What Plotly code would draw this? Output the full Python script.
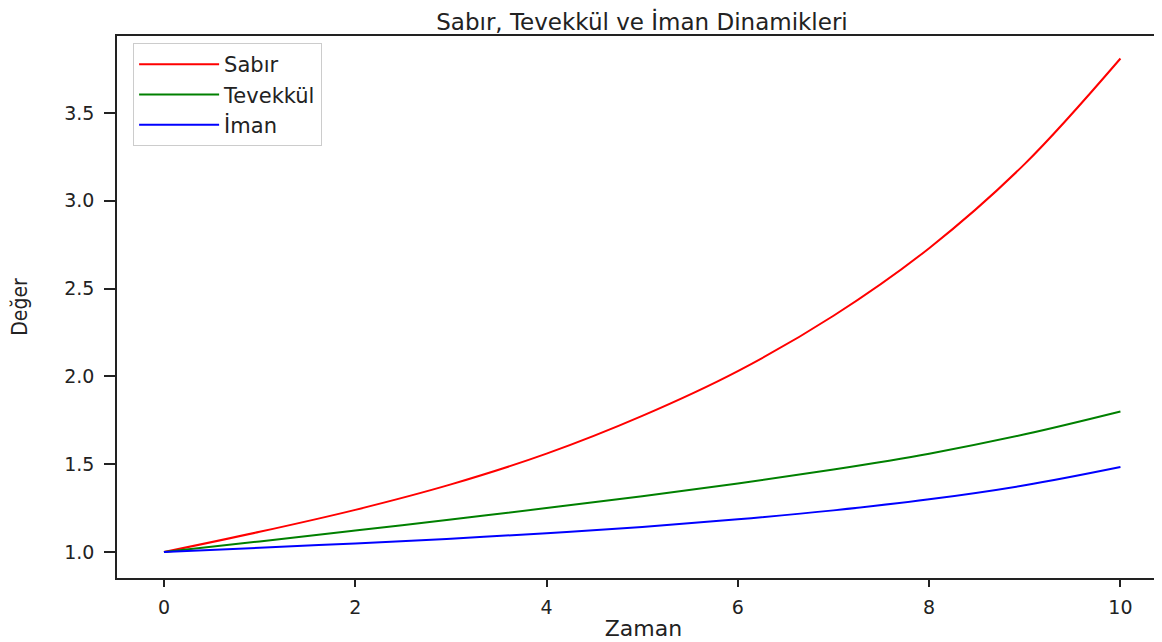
import plotly.graph_objects as go

zaman = [0, 1, 2, 3, 4, 5, 6, 7, 8, 9, 10]
sabir = [1.00, 1.115, 1.24, 1.385, 1.56, 1.775, 2.03, 2.345, 2.73, 3.21, 3.81]
tevekkul = [1.00, 1.06, 1.122, 1.185, 1.25, 1.318, 1.39, 1.47, 1.56, 1.67, 1.80]
iman = [1.00, 1.024, 1.049, 1.076, 1.107, 1.143, 1.186, 1.237, 1.30, 1.38, 1.484]

series_names = ["Sabır", "Tevekkül", "İman"]
series_values = [sabir, tevekkul, iman]
series_colors = ["red", "green", "blue"]

x_ticks = [0, 2, 4, 6, 8, 10]
y_ticks = [1.0, 1.5, 2.0, 2.5, 3.0, 3.5]
y_tick_labels = ["1.0", "1.5", "2.0", "2.5", "3.0", "3.5"]

FONT = "DejaVu Sans"

fig = go.Figure()
for name, vals, col in zip(series_names, series_values, series_colors):
    fig.add_trace(go.Scatter(
        x=zaman, y=vals, mode="lines", name=name, legendgroup=name,
        line=dict(color=col, width=2, shape="spline", smoothing=1.0),
    ))

axis_common = dict(
    showline=True, linecolor="#222", linewidth=1.5, mirror=True,
    ticks="outside", tickwidth=1.5, tickcolor="#222",
    showgrid=False, zeroline=False, automargin=False,
    tickfont=dict(family=FONT, size=19, color="#222"),
)

fig.update_layout(
    width=1162, height=642,
    margin=dict(l=109, r=0, t=28, b=72),
    paper_bgcolor="white", plot_bgcolor="white",
    title=dict(text="Sabır, Tevekkül ve İman Dinamikleri", x=0.5456, xanchor="center",
               y=0.978, yanchor="middle",
               font=dict(family=FONT, size=23, color="#222")),
    xaxis=dict(range=[-0.491, 10.518], tickvals=x_ticks, ticklen=7, ticklabelstandoff=4,
               title=dict(text="Zaman", font=dict(family=FONT, size=22, color="#222"), standoff=4),
               **axis_common),
    yaxis=dict(range=[0.852, 3.938], tickvals=y_ticks, ticktext=y_tick_labels,
               ticklen=11, ticklabelstandoff=6,
               title=dict(text="Değer", font=dict(family="DejaVu Sans Condensed, Liberation Sans Narrow, " + FONT, size=21, color="#222"), standoff=31),
               **axis_common),
    legend=dict(x=0.0153, y=0.987, xanchor="left", yanchor="top",
                bgcolor="rgba(255,255,255,0.8)", bordercolor="#ccc", borderwidth=1,
                font=dict(family=FONT, size=21, color="#222"),
                tracegroupgap=0, itemwidth=80),
    showlegend=True,
)

fig.write_html("out.html")
